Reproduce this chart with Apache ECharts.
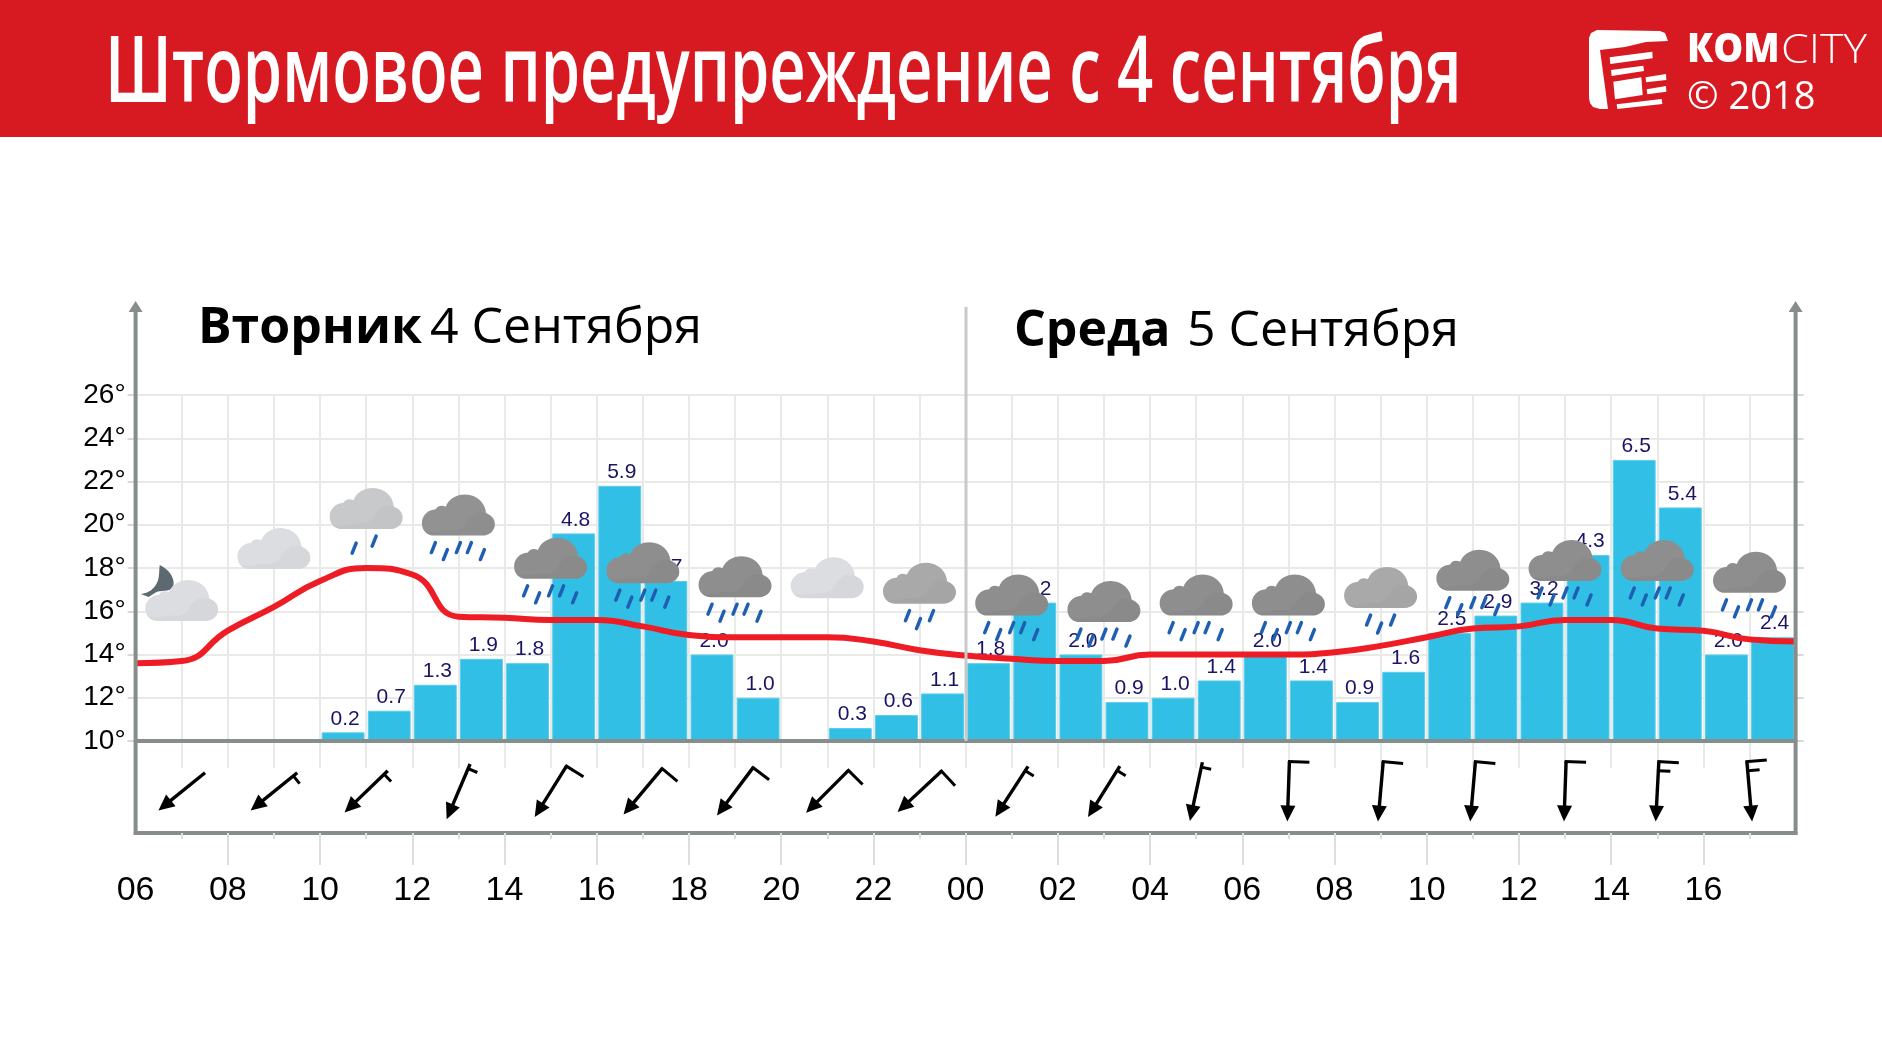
<!DOCTYPE html>
<html>
<head>
<meta charset="utf-8">
<title>Штормовое предупреждение</title>
<script src="https://cdn.jsdelivr.net/npm/echarts@6/dist/echarts.min.js"></script>
<style>
  html, body { margin: 0; padding: 0; background: #fff; }
  #chart { width: 1882px; height: 1060px; }
</style>
</head>
<body>
<div id="chart"></div>
<script>
// подписи оси времени, каждые 2 часа
var hourLabels = ["06","08","10","12","14","16","18","20","22","00","02","04","06","08","10","12","14","16"];
var longTicks = [2,4,6,8,10,12,14,16,18,20,22,24,26,28,30,32,34];
var tempTicks = [10,12,14,16,18,20,22,24,26];

// почасовые значения: 36 часов с 06:00 вторника
var hours = ["06","07","08","09","10","11","12","13","14","15","16","17","18","19","20","21","22","23",
             "00","01","02","03","04","05","06","07","08","09","10","11","12","13","14","15","16","17"];
var precip = [null,null,null,null,0.2,0.7,1.3,1.9,1.8,4.8,5.9,3.7,2.0,1.0,null,0.3,0.6,1.1,
              1.8,3.2,2.0,0.9,1.0,1.4,2.0,1.4,0.9,1.6,2.5,2.9,3.2,4.3,6.5,5.4,2.0,2.4];
// температура на начало каждого часа (37 точек)
var temperature = [13.6,13.7,15.1,16.2,17.4,18.0,17.7,15.75,15.7,15.6,15.6,15.3,14.9,14.8,14.8,14.8,14.6,14.2,
                   13.95,13.8,13.7,13.7,14.0,14.0,14.0,14.0,14.1,14.4,14.8,15.2,15.3,15.6,15.6,15.2,15.1,14.7,14.6];

// значки погоды и ветер, через каждые 2 часа
var iconHour = [1,3,5,7,9,11,13,15,17,19,21,23,25,27,29,31,33,35];
var cloudBase = [15.55,17.95,19.8,19.5,17.5,17.3,16.65,16.6,16.35,15.8,15.5,15.8,15.8,16.15,16.95,17.4,17.4,16.85];
var cloudShade = ["light","light","pale","gray","dark","dark","dark","light","mid","dark","dark","dark","dark","mid","dark","dark","dark","dark"];
var rainDrops = [0,0,2,5,5,5,5,0,3,5,5,5,5,3,5,5,5,5];
var windDir = [51,51,46,23,32,40,37,45,47,33,32,12,2,5,5,2,3,-5];
var windLong = [0,0,0,0,1,1,1,1,1,0,0,0,1,1,1,1,1,1];
var windShort = [0,1,1,1,0,0,0,0,0,1,1,1,0,0,0,0,1,1];

var shades = { light: "#dcdde0", pale: "#c8c9cb", mid: "#a9a9a9", gray: "#929292", dark: "#8e8e8e" };
var dropSpots = {
  2: [[-12,19],[8,12]],
  3: [[-12,12],[-1,20],[12,12]],
  5: [[-25,12],[-13,19],[0,12],[11,12],[24,19]]
};
var cloudPath = "M32 122C14 122 0 107 0 85C0 62 16 46 36 44C40 34 50 30 62 36C70 14 88 0 113 0C143 0 165 25 167 55C181 62 190 72 190 88C190 108 175 122 158 122Z";
var cloudShadePath = "M0 0L0 0M118 75L140 52L167 55C181 62 190 72 190 88C190 108 175 122 158 122L32 122C20 122 12 116 6 108C30 118 60 102 80 106C100 108 115 90 118 75Z";
var moonPath = "M19 0C30 5 35 16 32 22C28 28 20 24 14 28L8 32L0 29C8 28 14 24 17 16C19 10 18 5 19 0Z";

var axisGray = "#868d8b";
var gridGray = "#e9e9e7";
var left = 135.6, right = 1795.6, topAxis = 304, line10 = 741, lineBottom = 833;

function frameLine(x1, y1, x2, y2, color, width) {
  return { type: "line", z: 10, shape: { x1: x1, y1: y1, x2: x2, y2: y2 }, style: { stroke: color, lineWidth: width } };
}
function axisArrow(x) {
  return { type: "polygon", z: 10, shape: { points: [[x - 7, topAxis + 8], [x, topAxis - 3], [x + 7, topAxis + 8]] }, style: { fill: axisGray } };
}
function whiteShape(points) {
  return { type: "polygon", z: 10, shape: { points: points.map(function (p) { return [1500 + p[0] / 3, p[1] / 3]; }) }, style: { fill: "#fff" } };
}
function dayText(x, y, text, weight) {
  return { type: "text", z: 10, x: x, y: y, style: { text: text, fill: "#000", font: weight + " 50px 'Open Sans'", verticalAlign: "middle" } };
}

function renderCloud(params, api) {
  var i = params.dataIndex;
  var p = api.coord([api.value(0), api.value(1)]);
  var w = 73, h = 41;
  var children = [];
  if (i === 0) {
    children.push({ type: "path", shape: { pathData: moonPath, x: -41, y: -56, width: 33, height: 32, layout: "cover" }, style: { fill: "#5d6971" } });
  }
  children.push({ type: "path", shape: { pathData: cloudPath, x: -w / 2, y: -h, width: w, height: h, layout: "cover" }, style: { fill: shades[cloudShade[i]] } });
  children.push({ type: "path", shape: { pathData: cloudShadePath, x: -w / 2, y: -h, width: w, height: h, layout: "cover" }, style: { fill: "rgba(0,0,0,0.025)" } });
  (dropSpots[rainDrops[i]] || []).forEach(function (d) {
    children.push({
      type: "line",
      shape: { x1: d[0] + 2, y1: d[1] - 5, x2: d[0] - 2, y2: d[1] + 5 },
      style: { stroke: "#1f5fb2", lineWidth: 3.5, lineCap: "round" }
    });
  });
  return { type: "group", x: p[0], y: p[1], children: children };
}

function renderWind(params, api) {
  var p = api.coord([api.value(0), api.value(1)]);
  var i = params.dataIndex;
  var barbs = [
    { type: "line", shape: { x1: 0, y1: -30, x2: 0, y2: 18 }, style: { stroke: "#000", lineWidth: 3.4 } },
    { type: "polygon", shape: { points: [[0, 30], [-7.5, 14], [7.5, 14]] }, style: { fill: "#000" } }
  ];
  if (windLong[i]) {
    barbs.push({ type: "line", shape: { x1: -1.5, y1: -30, x2: 20, y2: -30 }, style: { stroke: "#000", lineWidth: 3 } });
  }
  if (windShort[i]) {
    var by = windLong[i] ? -21 : -25;
    barbs.push({ type: "line", shape: { x1: 0, y1: by, x2: windLong[i] ? 12 : 10, y2: by }, style: { stroke: "#000", lineWidth: 3 } });
  }
  return { type: "group", x: p[0], y: p[1], rotation: -api.value(2) * Math.PI / 180, children: barbs };
}

var cloudData = iconHour.map(function (h, i) { return [h, cloudBase[i]]; });
var windData = iconHour.map(function (h, i) { return [h, 0.45, windDir[i]]; });
var tempData = temperature.map(function (t, i) { return [i, t]; });

var option = {
  animation: false,
  backgroundColor: "#fff",
  textStyle: { fontFamily: "Liberation Sans" },
  grid: [
    { left: left, width: right - left, top: 395, height: line10 - 395 },
    { left: left, width: right - left, top: line10, height: lineBottom - line10 }
  ],
  xAxis: [
    {
      type: "category", gridIndex: 0, data: hours, position: "bottom", z: 6,
      axisLine: { onZero: false, lineStyle: { color: axisGray, width: 4 } },
      axisTick: { show: false },
      axisLabel: { show: false },
      splitLine: { show: false }
    },
    {
      type: "value", gridIndex: 0, min: 0, max: 36, interval: 1, position: "bottom",
      axisLine: { show: false, onZero: false },
      axisTick: { show: true, length: 27, lineStyle: { color: gridGray, width: 2 } },
      axisLabel: { show: false },
      splitLine: { show: true, lineStyle: { color: gridGray, width: 2 } }
    },
    {
      type: "value", gridIndex: 1, min: 0, max: 36, interval: 2, position: "bottom",
      axisLine: { onZero: false, lineStyle: { color: axisGray, width: 4 } },
      axisTick: { show: true, length: 32, customValues: longTicks, lineStyle: { color: "#dededc", width: 2 } },
      minorTick: { show: true, splitNumber: 2, length: 6, lineStyle: { color: "#dededc", width: 2 } },
      axisLabel: {
        margin: 41, fontSize: 34, color: "#000", fontFamily: "Liberation Sans",
        showMinLabel: true, showMaxLabel: true,
        formatter: function (v) { return hourLabels[v / 2] || ""; }
      },
      splitLine: { show: false }
    }
  ],
  yAxis: [
    {
      type: "value", gridIndex: 0, min: 10, max: 26, interval: 2,
      axisLine: { show: false },
      axisTick: { show: true, length: 8, lineStyle: { color: "#d9d9d7", width: 2 } },
      axisLabel: {
        margin: 10, fontSize: 28, padding: [2, 0, 0, 0], color: "#000", fontFamily: "Liberation Sans",
        formatter: function (v) { return tempTicks.indexOf(v) >= 0 ? v + "°" : ""; }
      },
      splitLine: { show: true, lineStyle: { color: gridGray, width: 2 } }
    },
    {
      type: "value", gridIndex: 0, min: 0, max: 8, interval: 1, position: "right",
      axisLine: { show: false },
      axisTick: { show: true, length: 8, lineStyle: { color: "#d9d9d7", width: 2 } },
      axisLabel: { show: false },
      splitLine: { show: false }
    },
    { type: "value", gridIndex: 1, min: 0, max: 1, show: false }
  ],
  series: [
    {
      name: "Осадки", type: "bar", xAxisIndex: 0, yAxisIndex: 1, z: 3,
      data: precip, barWidth: "93%",
      itemStyle: { color: "#31bfe5", borderColor: "#5ccdeb", borderWidth: 1 },
      label: {
        show: true, position: "top", distance: 3, offset: [2, 0], fontSize: 21, color: "#1b1464", fontFamily: "Liberation Sans",
        formatter: function (p) { return p.value == null ? "" : p.value.toFixed(1); }
      }
    },
    {
      name: "Облачность", type: "custom", xAxisIndex: 1, yAxisIndex: 0, z: 4, clip: false,
      data: cloudData, renderItem: renderCloud
    },
    {
      name: "Температура", type: "line", xAxisIndex: 1, yAxisIndex: 0, z: 5,
      data: tempData, smooth: 0.5, showSymbol: false,
      lineStyle: { color: "#ee1c25", width: 6 }
    },
    {
      name: "Ветер", type: "custom", xAxisIndex: 2, yAxisIndex: 2, z: 5, clip: false,
      data: windData, renderItem: renderWind
    }
  ],
  graphic: [
    // шапка
    { type: "rect", z: 1, shape: { x: 0, y: 0, width: 1882, height: 137 }, style: { fill: "#d71a21" } },
    {
      type: "text", z: 2, x: 105, y: 76, scaleX: 0.688,
      style: { text: "Штормовое предупреждение с 4 сентября", fill: "#fff", font: "600 92px 'Open Sans'", verticalAlign: "middle" }
    },
    // логотип
    {
      type: "polygon", z: 10,
      shape: { points: [[1597,30],[1660,31],[1665,33],[1668,41],[1646,42],[1625,47],[1600,50],[1608,109],[1600,109],[1593,107],[1590,103],[1589,98],[1589,38],[1591,33]] },
      style: { fill: "#fff" }
    },
    whiteShape([[329,172],[457,155],[458,175],[331,192]]),
    whiteShape([[333,210],[430,197],[432,213],[335,228]]),
    whiteShape([[340,245],[424,232],[428,285],[345,298]]),
    whiteShape([[437,232],[498,222],[499,240],[438,247]]),
    whiteShape([[440,268],[498,258],[499,275],[442,283]]),
    whiteShape([[350,313],[485,297],[487,312],[352,327]]),
    { type: "text", z: 10, x: 1687, y: 51, scaleX: 0.94, style: { text: "КОМ", fill: "#fff", font: "800 40px 'Open Sans'", verticalAlign: "middle" } },
    { type: "text", z: 10, x: 1781, y: 51, scaleX: 1.09, style: { text: "CITY", fill: "#fff", font: "300 41px 'Open Sans'", verticalAlign: "middle" } },
    { type: "text", z: 10, x: 1687, y: 98, style: { text: "© 2018", fill: "#fff", font: "38px 'Open Sans'", verticalAlign: "middle" } },
    // заголовки дней
    dayText(198, 329, "Вторник", "bold"),
    dayText(430, 329, "4 Сентября", "normal"),
    dayText(1014, 332, "Среда", "bold"),
    dayText(1187, 332, "5 Сентября", "normal"),
    // рамка и разделитель дней
    frameLine(966, 307, 966, line10, "#c9cac8", 3),
    frameLine(left, topAxis + 6, left, lineBottom + 2, axisGray, 4),
    frameLine(right, topAxis + 6, right, lineBottom + 2, axisGray, 4),
    axisArrow(left),
    axisArrow(right)
  ]
};

var myChart = echarts.init(document.getElementById("chart"), null, { renderer: "canvas" });
myChart.setOption(option);
</script>
</body>
</html>
